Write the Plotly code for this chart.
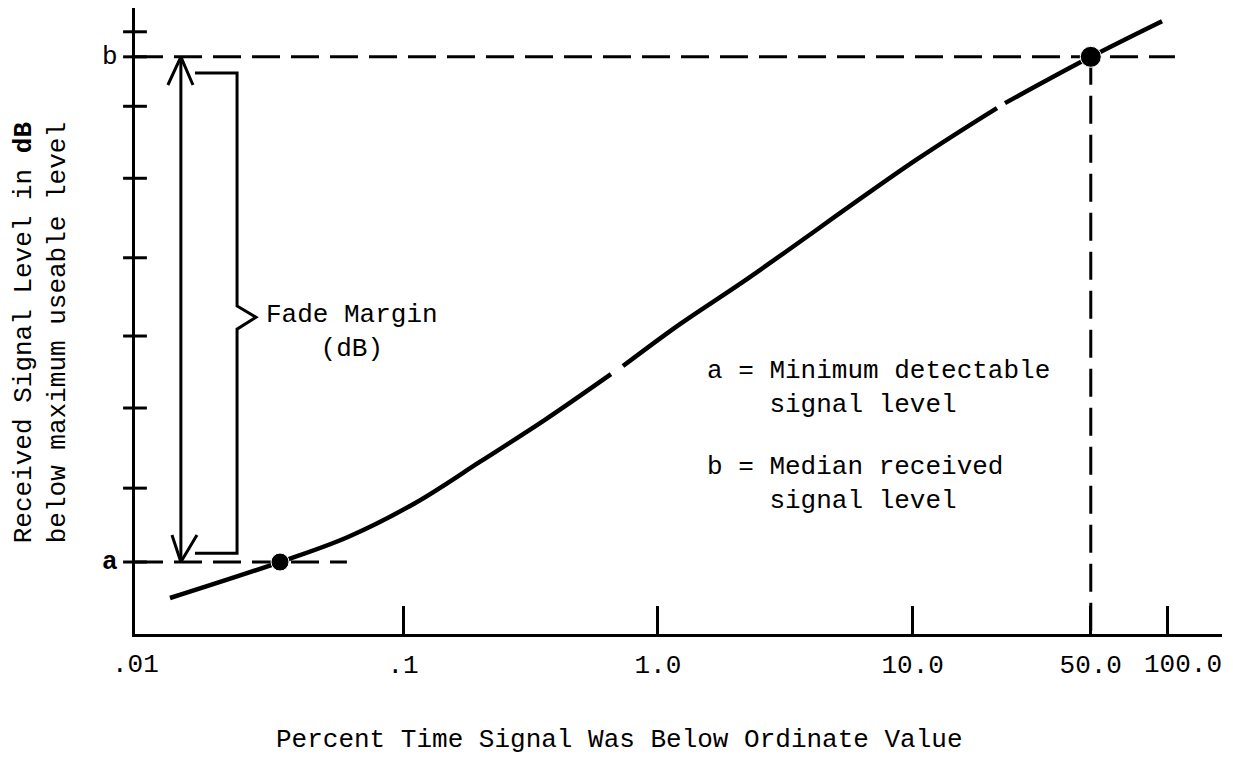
import numpy as np
import plotly.graph_objects as go

# ---- data -------------------------------------------------------------
# cumulative distribution of received signal level (percent of time the
# signal was below the ordinate value, log scale) vs. relative level
curve_pct = [0.01217, 0.0329, 0.0608, 0.1113, 0.2021, 0.3604, 0.6545,
             None,
             0.7295, 1.221, 2.237, 10.21, 21.42,
             None,
             23.03, 50.0, 95.2]
curve_level = [5.75, 11.5, 15.5, 20.9, 27.6, 34.2, 41.5,
               None,
               42.8, 49.5, 56.7, 75.6, 84.0,
               None,
               84.8, 92.2, 97.9]

# reference levels: a = minimum detectable, b = median received
a_pct, a_level = 0.0329, 11.5
b_pct, b_level = 50.0, 92.2

# tick marks along the ordinate (no numeric labels)
y_tick_levels = [96.2, 92.2, 84.3, 72.8, 60.1, 47.6, 36.1, 23.3, 11.5]

# abscissa ticks
x_tick_vals = [0.1, 1, 10, 50, 100]
x_tick_text = [".1", "1.0", "10.0", "50.0", ""]
x_end_label = "100.0"

# axis extents (log10 of percent for x, level units for y)
x_log_range = [-2.052, 2.214]
y_range = [0, 100]

# fade-margin arrow and bracket geometry (percent / level)
arrow_x = 0.01343
arrow_wing_left = [0.01194, 0.01239]
arrow_wing_right = [0.01498, 0.01553]
arrow_wing_levels = [87.7, 15.8]
bracket_arm_x = 0.01525
bracket_x = 0.02231
bracket_tip_x = 0.02646
bracket_levels = [89.6, 52.4, 50.6, 48.7, 12.9]
a_line_end = 0.0602
b_line_end = 107.0

FONT = "Liberation Mono"
INK = "black"
DASH = "28px,11px"

x_axis_start = 10 ** x_log_range[0]

fig = go.Figure()

# dashed reference lines
fig.add_trace(go.Scatter(x=[x_axis_start, a_line_end], y=[a_level, a_level],
                         mode="lines", line=dict(color=INK, width=3, dash=DASH),
                         hoverinfo="skip", cliponaxis=False))
fig.add_trace(go.Scatter(x=[x_axis_start, b_line_end], y=[b_level, b_level],
                         mode="lines", line=dict(color=INK, width=3, dash=DASH),
                         hoverinfo="skip", cliponaxis=False))
fig.add_trace(go.Scatter(x=[b_pct, b_pct], y=[b_level, y_range[0]],
                         mode="lines", line=dict(color=INK, width=3, dash=DASH),
                         hoverinfo="skip", cliponaxis=False))

# distribution curve
fig.add_trace(go.Scatter(x=curve_pct, y=curve_level, mode="lines",
                         line=dict(color=INK, width=4.5, shape="spline", smoothing=1.0),
                         connectgaps=False, hoverinfo="skip"))

# points a and b
fig.add_trace(go.Scatter(x=[a_pct, b_pct], y=[a_level, b_level], mode="markers",
                         marker=dict(color=INK, size=[18, 21], opacity=1),
                         hoverinfo="skip"))

# fade margin double arrow
fig.add_trace(go.Scatter(
    x=[arrow_x, arrow_x, None,
       arrow_wing_left[0], arrow_x, arrow_wing_right[0], None,
       arrow_wing_left[1], arrow_x, arrow_wing_right[1]],
    y=[b_level, a_level, None,
       arrow_wing_levels[0], b_level, arrow_wing_levels[0], None,
       arrow_wing_levels[1], a_level, arrow_wing_levels[1]],
    mode="lines", line=dict(color=INK, width=3), hoverinfo="skip"))

# brace enclosing the margin
fig.add_trace(go.Scatter(
    x=[bracket_arm_x, bracket_x, bracket_x, bracket_tip_x, bracket_x, bracket_x, bracket_arm_x],
    y=[bracket_levels[0], bracket_levels[0], bracket_levels[1], bracket_levels[2],
       bracket_levels[3], bracket_levels[4], bracket_levels[4]],
    mode="lines", line=dict(color=INK, width=3), hoverinfo="skip"))

# ordinate tick marks straddling the axis
fig.add_trace(go.Scatter(x=[x_axis_start] * len(y_tick_levels), y=y_tick_levels,
                         mode="markers", cliponaxis=False, hoverinfo="skip",
                         marker=dict(symbol="line-ew", size=17, color=INK,
                                     line=dict(color=INK, width=3))))

txt = dict(family=FONT, size=26, color=INK)

annotations = [
    dict(text="Fade Margin<br>(dB)", x=0.1996, y=0.482, xref="paper", yref="paper",
         xanchor="center", yanchor="middle", showarrow=False, align="center", font=txt),
    dict(text="a = Minimum detectable<br>\u00a0\u00a0\u00a0\u00a0signal level",
         x=0.5244, y=0.393, xref="paper", yref="paper",
         xanchor="left", yanchor="middle", showarrow=False, align="left", font=txt),
    dict(text="b = Median received<br>\u00a0\u00a0\u00a0\u00a0signal level",
         x=0.5244, y=0.239, xref="paper", yref="paper",
         xanchor="left", yanchor="middle", showarrow=False, align="left", font=txt),
    dict(text="Percent Time Signal Was Below Ordinate Value", x=0.446, y=-0.169,
         xref="paper", yref="paper", xanchor="center", yanchor="middle",
         showarrow=False, font=txt),
    dict(text="Received Signal Level in <b>dB</b><br>below maximum useable level",
         x=-0.0865, y=0.482, xref="paper", yref="paper", xanchor="center",
         yanchor="middle", textangle=-90, showarrow=False, align="center", font=txt),
    dict(text="<b>a</b>", x=-0.023, y=a_level, xref="paper", yref="y",
         xanchor="center", yanchor="middle", showarrow=False, font=txt),
    dict(text="b", x=-0.023, y=b_level, xref="paper", yref="y",
         xanchor="center", yanchor="middle", showarrow=False, font=txt),
    dict(text=".01", x=x_log_range[0], y=0, xref="x", yref="paper",
         xanchor="center", yanchor="top", yshift=-14, showarrow=False, font=txt),
    dict(text=x_end_label, x=np.log10(x_tick_vals[-1]), y=0, xref="x", yref="paper",
         xanchor="center", yanchor="top", xshift=16, yshift=-14, showarrow=False,
         font=txt),
]

fig.update_layout(
    width=1233, height=757,
    margin=dict(l=135, r=11, t=8, b=123),
    paper_bgcolor="white", plot_bgcolor="white",
    showlegend=False,
    annotations=annotations,
    xaxis=dict(type="log", range=x_log_range, showgrid=False, zeroline=False,
               showline=True, linecolor=INK, linewidth=3,
               ticks="inside", ticklen=28, tickwidth=3, tickcolor=INK,
               tickvals=x_tick_vals, ticktext=x_tick_text,
               tickfont=txt, ticklabelstandoff=5),
    yaxis=dict(range=y_range, showgrid=False, zeroline=False,
               showline=True, linecolor=INK, linewidth=3,
               showticklabels=False, ticks=""),
)

fig.write_html("out.html")
